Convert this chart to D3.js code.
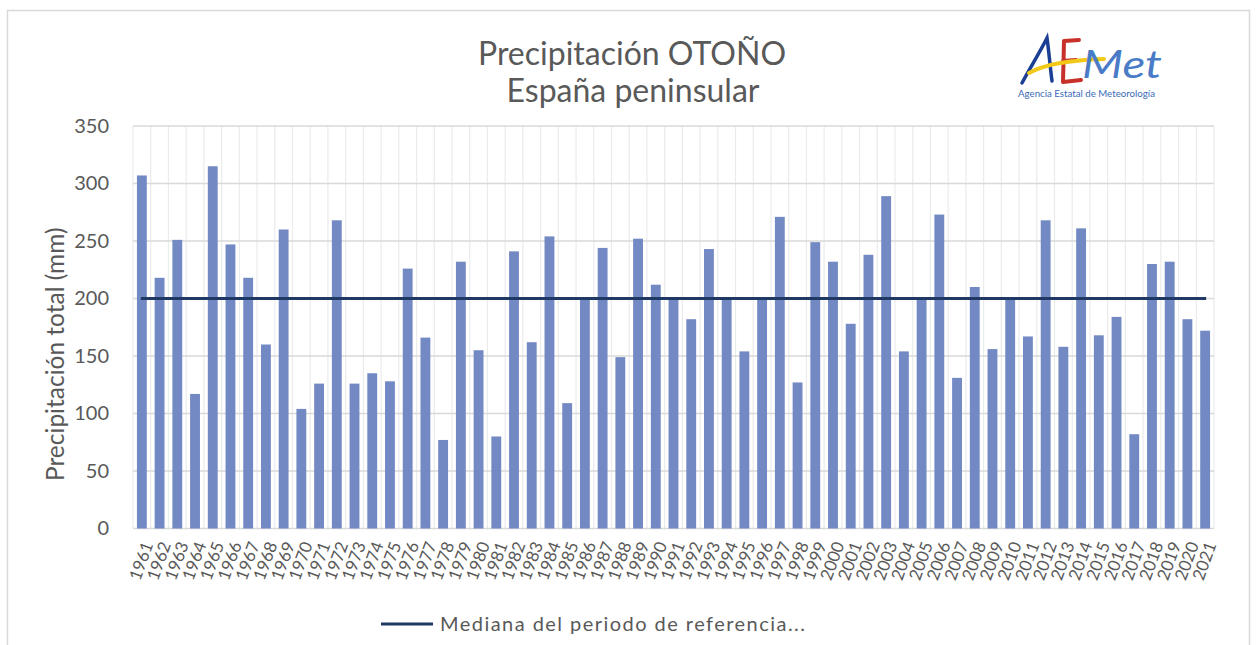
<!DOCTYPE html>
<html>
<head>
<meta charset="utf-8">
<script src="https://cdn.jsdelivr.net/npm/d3@7"></script>
<style>
  body { margin: 0; background: #fff; }
  text { font-family: Lato, "Open Sans", sans-serif; }
</style>
</head>
<body>
<div id="chart"></div>
<script>
// years shown on the x axis
const years = [1961, 1962, 1963, 1964, 1965, 1966, 1967, 1968, 1969, 1970,
  1971, 1972, 1973, 1974, 1975, 1976, 1977, 1978, 1979, 1980,
  1981, 1982, 1983, 1984, 1985, 1986, 1987, 1988, 1989, 1990,
  1991, 1992, 1993, 1994, 1995, 1996, 1997, 1998, 1999, 2000,
  2001, 2002, 2003, 2004, 2005, 2006, 2007, 2008, 2009, 2010,
  2011, 2012, 2013, 2014, 2015, 2016, 2017, 2018, 2019, 2020, 2021]

// autumn precipitation, mm
const precip = [307, 218, 251, 117, 315, 247, 218, 160, 260, 104,
  126, 268, 126, 135, 128, 226, 166, 77, 232, 155,
  80, 241, 162, 254, 109, 200, 244, 149, 252, 212,
  200, 182, 243, 200, 154, 200, 271, 127, 249, 232,
  178, 238, 289, 154, 200, 273, 131, 210, 156, 200,
  167, 268, 158, 261, 168, 184, 82, 230, 232, 182, 172]

const median = 200
const yTicks = [0, 50, 100, 150, 200, 250, 300, 350]

const data = years.map((y, i) => ({ year: y, value: precip[i] }))

const width = 1256
const height = 645
const plot = { left: 133, right: 1214, top: 126, bottom: 528.5 }

const svg = d3.select('#chart').append('svg')
  .attr('width', width)
  .attr('height', height)

// chart frame
svg.append('rect')
  .attr('x', 7.5).attr('y', 10.5)
  .attr('width', 1242).attr('height', 640)
  .attr('fill', 'none')
  .attr('stroke', '#d9d9d9')
  .attr('stroke-width', 1.5)

const x = d3.scaleBand()
  .domain(years)
  .range([plot.left, plot.right])
  .paddingInner(0.444)
  .paddingOuter(0.222)

const y = d3.scaleLinear()
  .domain([0, 350])
  .range([plot.bottom, plot.top])

const gap = (x.step() - x.bandwidth()) / 2
const lastYear = years[years.length - 1]

// vertical grid between categories
svg.append('g')
  .selectAll('line')
  .data(years.concat(['end']))
  .enter().append('line')
  .attr('x1', (d, i) => i < years.length ? x(d) - gap : x(lastYear) + x.bandwidth() + gap)
  .attr('x2', (d, i) => i < years.length ? x(d) - gap : x(lastYear) + x.bandwidth() + gap)
  .attr('y1', plot.top)
  .attr('y2', plot.bottom)
  .attr('stroke', '#ebebeb')
  .attr('stroke-width', 1.2)

// horizontal grid
svg.append('g')
  .selectAll('line')
  .data(yTicks)
  .enter().append('line')
  .attr('x1', plot.left)
  .attr('x2', plot.right)
  .attr('y1', (d) => y(d))
  .attr('y2', (d) => y(d))
  .attr('stroke', '#d9d9d9')
  .attr('stroke-width', 1.5)

// bars
svg.append('g')
  .selectAll('rect')
  .data(data)
  .enter().append('rect')
  .attr('x', (d) => x(d.year))
  .attr('y', (d) => y(d.value))
  .attr('width', x.bandwidth())
  .attr('height', (d) => y(0) - y(d.value))
  .attr('fill', '#7289c4')

// median of reference period
svg.append('line')
  .attr('x1', x(years[0]) + x.bandwidth() / 2 - 1)
  .attr('x2', x(lastYear) + x.bandwidth() / 2 + 1)
  .attr('y1', y(median))
  .attr('y2', y(median))
  .attr('stroke', '#1f3864')
  .attr('stroke-width', 3)

// y axis
const yAxis = svg.append('g')
  .attr('transform', `translate(${plot.left},0)`)
  .call(d3.axisLeft(y).tickValues(yTicks).tickSize(0).tickPadding(24))
yAxis.select('.domain').remove()
yAxis.selectAll('text')
  .style('font-family', 'Lato, sans-serif')
  .style('font-size', '20px')
  .attr('fill', '#595959')

// x axis labels, slanted
const xAxis = svg.append('g')
  .attr('transform', `translate(0,${plot.bottom})`)
  .call(d3.axisBottom(x).tickSize(0).tickFormat(d3.format('d')))
xAxis.select('.domain').remove()
xAxis.selectAll('text')
  .style('font-family', 'Lato, sans-serif')
  .style('font-size', '17px')
  .attr('fill', '#595959')
  .attr('text-anchor', 'end')
  .attr('y', 0)
  .attr('dy', '0.35em')
  .attr('transform', 'translate(6,14) rotate(-70)')

// axis title
svg.append('text')
  .attr('transform', `translate(55,${(plot.top + plot.bottom) / 2 + 27}) rotate(-90)`)
  .attr('text-anchor', 'middle')
  .attr('dy', '0.35em')
  .style('font-size', '24.5px')
  .attr('fill', '#595959')
  .text('Precipitación total (mm)')

const title = svg.append('text')
  .attr('text-anchor', 'middle')
  .style('font-size', '32px')
  .attr('fill', '#595959')
title.append('tspan').attr('x', 632).attr('y', 65).text('Precipitación OTOÑO')
title.append('tspan').attr('x', 633).attr('y', 102).text('España peninsular')

// legend
const legend = svg.append('g').attr('transform', 'translate(381,624)')
legend.append('line')
  .attr('x1', 0).attr('x2', 52)
  .attr('stroke', '#1f3864')
  .attr('stroke-width', 3)
legend.append('text')
  .attr('x', 59)
  .attr('dy', '0.35em')
  .attr('textLength', 365)
  .attr('lengthAdjust', 'spacing')
  .style('font-size', '20px')
  .attr('fill', '#595959')
  .text('Mediana del periodo de referencia...')

// AEMet logo
const logo = svg.append('g')
logo.append('path')
  .attr('d', 'M1022,83 C1030,68 1040,52 1047,38 C1049,52 1050,66 1052,81')
  .attr('fill', 'none').attr('stroke', '#1b3f94').attr('stroke-width', 3.5)
  .attr('stroke-linecap', 'round')
logo.append('path')
  .attr('d', 'M1079,40 L1064,41 L1063,82 L1081,80 M1063,61 L1076,60')
  .attr('fill', 'none').attr('stroke', '#c8302a').attr('stroke-width', 4)
  .attr('stroke-linecap', 'round').attr('stroke-linejoin', 'round')
logo.append('path')
  .attr('d', 'M1029,73 C1045,64 1070,60 1104,59')
  .attr('fill', 'none').attr('stroke', '#f2c918').attr('stroke-width', 4)
  .attr('stroke-linecap', 'round')
logo.append('text')
  .attr('x', 1082).attr('y', 78)
  .attr('textLength', 80)
  .attr('lengthAdjust', 'spacingAndGlyphs')
  .style('font-size', '38px')
  .style('font-style', 'italic')
  .attr('fill', '#4a7bc6')
  .text('Met')
logo.append('text')
  .attr('x', 1018).attr('y', 97)
  .attr('textLength', 137)
  .attr('lengthAdjust', 'spacingAndGlyphs')
  .style('font-size', '9px')
  .attr('fill', '#3d6bb8')
  .text('Agencia Estatal de Meteorología')
</script>
</body>
</html>
